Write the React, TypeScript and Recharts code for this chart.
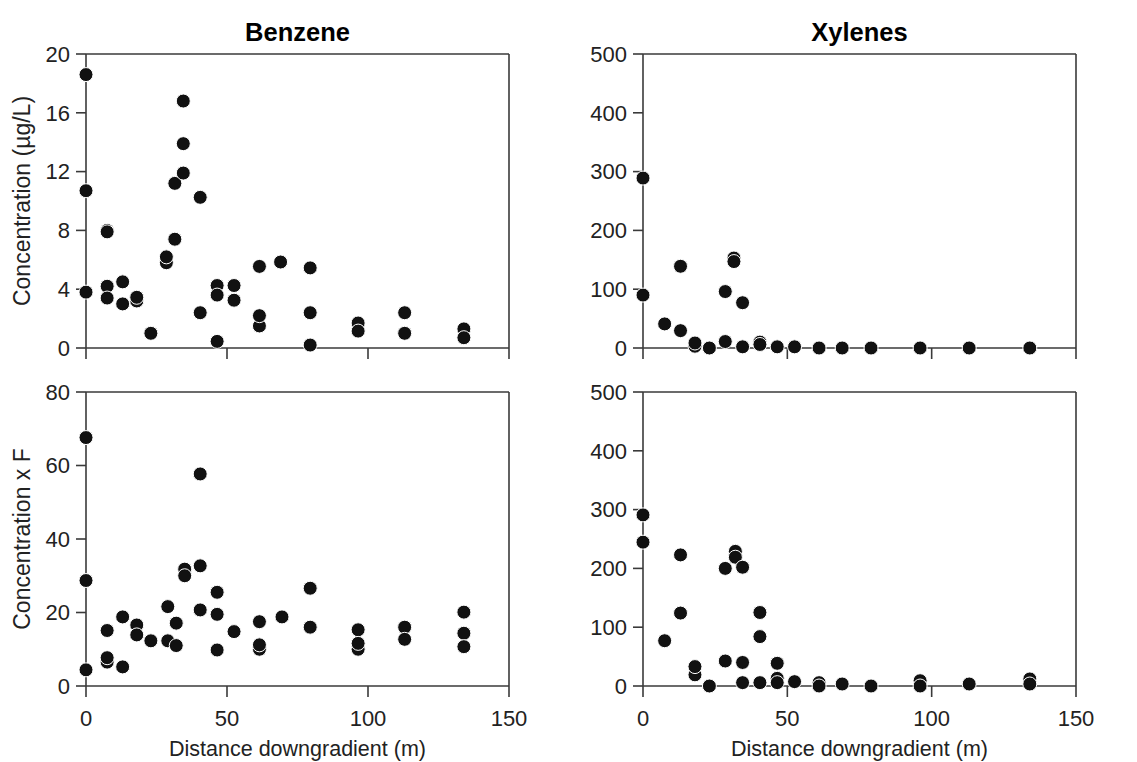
import { ScatterChart, Scatter, XAxis, YAxis, ReferenceLine, Label } from "recharts";

// well distances (m) and measured values, read per panel
const benzeneDist = [0, 0, 0, 7.5, 7.5, 7.5, 7.5, 13, 13, 18, 18, 23, 28.5, 28.5, 31.5, 31.5, 34.5, 34.5, 34.5, 40.5, 40.5, 46.5, 46.5, 46.5, 52.5, 52.5, 61.5, 61.5, 61.5, 69, 79.5, 79.5, 79.5, 96.5, 96.5, 113, 113, 134, 134];
const benzeneConc = [18.6, 10.7, 3.8, 8.0, 7.9, 4.2, 3.4, 4.5, 3.0, 3.2, 3.45, 1.0, 5.8, 6.2, 11.2, 7.4, 16.8, 13.9, 11.9, 10.25, 2.4, 4.25, 3.6, 0.45, 4.25, 3.25, 5.55, 1.5, 2.2, 5.85, 5.45, 2.4, 0.2, 1.7, 1.15, 2.4, 1.0, 1.3, 0.7];

const benzeneFDist = [0, 0, 0, 7.5, 7.5, 7.5, 13, 13, 18, 18, 23, 29, 29, 32, 32, 35, 35, 40.5, 40.5, 40.5, 46.5, 46.5, 46.5, 52.5, 61.5, 61.5, 61.5, 69.5, 79.5, 79.5, 96.5, 96.5, 96.5, 113, 113, 134, 134, 134];
const benzeneF = [67.6, 28.7, 4.4, 15.1, 6.5, 7.7, 18.8, 5.2, 16.6, 13.9, 12.3, 21.6, 12.3, 17.1, 11.0, 31.8, 30.0, 57.7, 32.7, 20.7, 25.5, 19.5, 9.8, 14.8, 17.5, 10.0, 11.2, 18.8, 26.6, 16.0, 15.3, 10.0, 11.6, 16.0, 12.7, 20.1, 14.35, 10.7];

const xyleneDist = [0, 0, 7.5, 13, 13, 18, 18, 23, 28.5, 28.5, 31.5, 31.5, 34.5, 34.5, 40.5, 40.5, 46.5, 52.5, 61, 69, 79, 96, 113, 134];
const xyleneConc = [289, 90, 41, 139, 29.5, 3, 8.5, 0, 96, 11, 153, 147, 77, 2, 10, 6, 2, 2, 0, 0, 0, 0, 0, 0];

const xyleneFDist = [0, 0, 7.5, 13, 13, 18, 18, 23, 28.5, 28.5, 32, 32, 34.5, 34.5, 34.5, 40.5, 40.5, 40.5, 46.5, 46.5, 46.5, 52.5, 61, 61, 69, 79, 96, 96, 113, 134, 134];
const xyleneF = [291, 244.6, 77, 223, 124, 19, 33, 0, 200, 42.5, 229, 219, 202, 40, 5.7, 125, 84, 5.7, 38.6, 13, 5.7, 7.4, 5.7, 0, 3.4, 0, 9, 0, 3.4, 12, 3.4];

const distTicks = [0, 50, 100, 150];
const benzeneTicks = [0, 4, 8, 12, 16, 20];
const benzeneFTicks = [0, 20, 40, 60, 80];
const xyleneTicks = [0, 100, 200, 300, 400, 500];

const FONT = "'Liberation Sans', Arial, Helvetica, sans-serif";
const INK = "#3a3a3a";
const TEXT = "#222";

const zip = (xs: number[], ys: number[]) => xs.map((x, i) => ({ x, y: ys[i] }));

const Dot = (props: any) => (
  <circle cx={props.cx} cy={props.cy} r={7} fill="#111" stroke="#fff" strokeWidth={1} />
);

const yTitle = (text: string) => (props: any) => {
  const { x, y, height } = props.viewBox;
  return (
    <text
      transform={`translate(${x - 16},${y + height / 2}) rotate(-90)`}
      textAnchor="middle"
      fontSize={23}
      fontFamily={FONT}
      fill={TEXT}
    >
      {text}
    </text>
  );
};

const xTitle = (props: any) => {
  const { x, y, width } = props.viewBox;
  return (
    <text x={x + width / 2} y={y + 70} textAnchor="middle" fontSize={21.5} fontFamily={FONT} fill={TEXT}>
      Distance downgradient (m)
    </text>
  );
};

type PanelProps = {
  left: number;
  top: number;
  width: number;
  height: number;
  margin: { top: number; right: number; bottom: number; left: number };
  yWidth: number;
  xHeight: number;
  data: { x: number; y: number }[];
  yMax: number;
  yTicks: number[];
  title?: string;
  yLabel?: string;
  showX: boolean;
};

function Panel(p: PanelProps) {
  const line = { stroke: INK, strokeWidth: 1.6 };
  return (
    <div style={{ position: "absolute", left: p.left, top: p.top }}>
      <ScatterChart width={p.width} height={p.height} margin={p.margin}>
        <XAxis
          type="number"
          dataKey="x"
          domain={[0, 150]}
          ticks={distTicks}
          height={p.xHeight}
          axisLine={line}
          tickLine={line}
          tickSize={11}
          tickMargin={13}
          tick={{ fill: TEXT, fontSize: 22, fontFamily: FONT }}
          tickFormatter={p.showX ? undefined : () => ""}
        >
          {p.showX && <Label content={xTitle} />}
        </XAxis>
        <YAxis
          type="number"
          dataKey="y"
          domain={[0, p.yMax]}
          ticks={p.yTicks}
          width={p.yWidth}
          axisLine={line}
          tickLine={line}
          tickSize={10}
          tickMargin={6}
          tick={{ fill: TEXT, fontSize: 22, fontFamily: FONT }}
        >
          {p.yLabel && <Label content={yTitle(p.yLabel)} />}
        </YAxis>
        <ReferenceLine
          y={p.yMax}
          stroke={INK}
          strokeWidth={1.6}
          label={
            p.title
              ? { value: p.title, position: "top", offset: 13, fill: "#000", fontSize: 25.5, fontWeight: "bold", fontFamily: FONT }
              : undefined
          }
        />
        <ReferenceLine x={150} stroke={INK} strokeWidth={1.6} />
        <Scatter data={p.data} shape={Dot} isAnimationActive={false} />
      </ScatterChart>
    </div>
  );
}

export default function App() {
  return (
    <div style={{ position: "absolute", left: 0, top: 0, width: 1137, height: 762, background: "#fff" }}>
      <Panel
        left={0}
        top={0}
        width={560}
        height={380}
        margin={{ top: 54, right: 51, bottom: 2, left: 46 }}
        yWidth={40}
        xHeight={30}
        data={zip(benzeneDist, benzeneConc)}
        yMax={20}
        yTicks={benzeneTicks}
        title="Benzene"
        yLabel="Concentration (µg/L)"
        showX={false}
      />
      <Panel
        left={570}
        top={0}
        width={567}
        height={380}
        margin={{ top: 54, right: 61, bottom: 2, left: 23 }}
        yWidth={50}
        xHeight={30}
        data={zip(xyleneDist, xyleneConc)}
        yMax={500}
        yTicks={xyleneTicks}
        title="Xylenes"
        showX={false}
      />
      <Panel
        left={0}
        top={360}
        width={560}
        height={402}
        margin={{ top: 32, right: 51, bottom: 6, left: 46 }}
        yWidth={40}
        xHeight={70}
        data={zip(benzeneFDist, benzeneF)}
        yMax={80}
        yTicks={benzeneFTicks}
        yLabel="Concentration x F"
        showX={true}
      />
      <Panel
        left={570}
        top={360}
        width={567}
        height={402}
        margin={{ top: 32, right: 61, bottom: 6, left: 23 }}
        yWidth={50}
        xHeight={70}
        data={zip(xyleneFDist, xyleneF)}
        yMax={500}
        yTicks={xyleneTicks}
        showX={true}
      />
    </div>
  );
}
